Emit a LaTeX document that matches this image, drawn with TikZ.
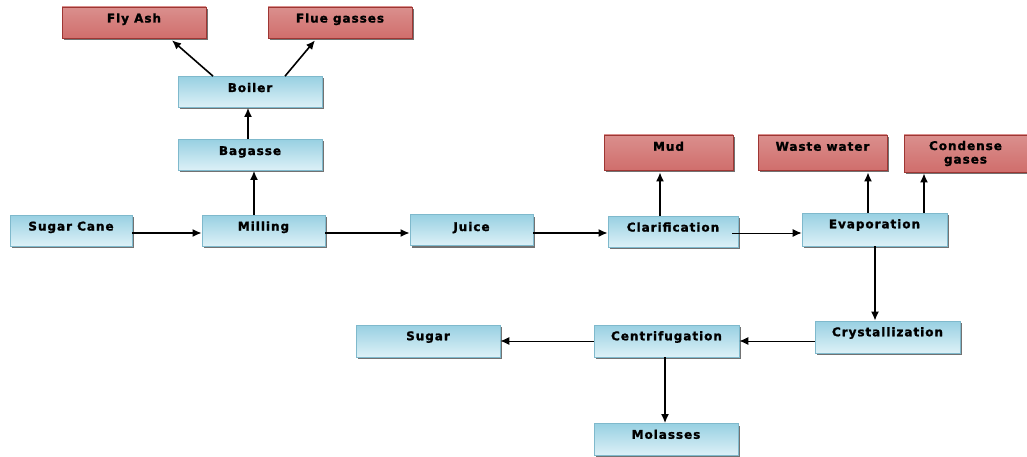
\documentclass[tikz,border=0pt]{standalone}
\usepackage{fontspec}
\setmainfont{DejaVu Sans}[BoldFont={DejaVu Sans Bold}, BoldFeatures={FakeBold=1.5}]
\usetikzlibrary{arrows.meta,shadows}
\definecolor{bluetop}{HTML}{98D0E2}
\definecolor{bluebot}{HTML}{DDF1F7}
\definecolor{blueline}{HTML}{7FB9CC}
\definecolor{redtop}{HTML}{DA8F8D}
\definecolor{redmid}{HTML}{C0504D}
\definecolor{redbot}{HTML}{D06E6C}
\definecolor{redline}{HTML}{9E3633}
\tikzset{
  base/.style={rectangle, inner sep=0pt, text height=8.5pt, text depth=8.5pt, align=center,
    font=\fontsize{12}{13.5}\selectfont\bfseries\addfontfeature{LetterSpace=8},
    drop shadow={shadow xshift=1.5pt, shadow yshift=-2pt, fill=black!65, opacity=0.85}},
  bluebox/.style={base, draw=blueline, line width=0.7pt, top color=bluetop, bottom color=bluebot,
    minimum width=#1, minimum height=31pt},
  redbox/.style={base, draw=redline, line width=0.7pt, top color=redtop, middle color=redmid, bottom color=redbot,
    minimum width=#1, minimum height=31pt},
  arr/.style={-{Latex[length=9pt,width=8pt]}, line width=1.6pt, black},
  thinarr/.style={-{Latex[length=9pt,width=8pt]}, line width=1pt, black}
}
\begin{document}
\begin{tikzpicture}
\useasboundingbox (0,0) rectangle (1027pt,-457pt);
\node[redbox=144pt] (flyash) at (134pt,-22.5pt) {Fly Ash};
\node[redbox=144pt] (flue) at (340pt,-22.5pt) {Flue gasses};
\node[bluebox=144pt] (boiler) at (250pt,-92pt) {Boiler};
\node[bluebox=144pt] (bagasse) at (250pt,-155pt) {Bagasse};
\node[bluebox=122pt] (cane) at (71pt,-230.5pt) {Sugar Cane};
\node[bluebox=123pt] (milling) at (263.5pt,-230.5pt) {Milling};
\node[bluebox=123pt, text depth=6.5pt] (juice) at (471.5pt,-230pt) {Juice};
\node[bluebox=130pt] (clar) at (673pt,-231.5pt) {Clarification};
\node[redbox=129pt, minimum height=35pt, text depth=12pt] (mud) at (668.5pt,-152.5pt) {Mud};
\node[redbox=129pt, minimum height=35pt, text depth=12pt] (waste) at (822.5pt,-152.5pt) {Waste water};
\node[redbox=123pt, minimum height=37pt, text height=, text depth=] (cond) at (965.5pt,-153.5pt) {Condense\\gases};
\node[bluebox=145pt, minimum height=33pt, text depth=11pt] (evap) at (874.5pt,-229.5pt) {Evaporation};
\node[bluebox=145pt, minimum height=32pt, text depth=10pt] (cryst) at (887.5pt,-337pt) {Crystallization};
\node[bluebox=145pt, minimum height=32pt, text depth=10pt] (centri) at (666.5pt,-341pt) {Centrifugation};
\node[bluebox=144pt, minimum height=32pt, text depth=10pt] (sugar) at (428pt,-341pt) {Sugar};
\node[bluebox=144pt, minimum height=32pt, text depth=10pt] (mol) at (666pt,-439.5pt) {Molasses};

\draw[arr] (cane.east |- 0,-233pt) -- (milling.west |- 0,-233pt);
\draw[arr] (milling.east |- 0,-233pt) -- (juice.west |- 0,-233pt);
\draw[arr] (juice.east |- 0,-233pt) -- (clar.west |- 0,-233pt);
\draw[thinarr] ([xshift=-6pt]clar.east |- 0,-233pt) -- (evap.west |- 0,-233pt);
\draw[arr] (milling.north -| 254pt,0) -- (bagasse.south -| 254pt,0);
\draw[arr] (bagasse.north -| 248pt,0) -- (boiler.south -| 248pt,0);
\draw[arr] (boiler.north -| 213pt,0) -- ([yshift=-2pt]flyash.south -| 172pt,0);
\draw[arr] (boiler.north -| 285pt,0) -- ([yshift=-2pt]flue.south -| 315pt,0);
\draw[arr] (clar.north -| 660pt,0) -- ([yshift=-2pt]mud.south -| 660pt,0);
\draw[arr] (evap.north -| 868pt,0) -- ([yshift=-2pt]waste.south -| 868pt,0);
\draw[arr] (evap.north -| 924pt,0) -- ([yshift=-1pt]cond.south -| 924pt,0);
\draw[arr] (evap.south -| 875pt,0) -- (cryst.north -| 875pt,0);
\draw[thinarr] (cryst.west |- 0,-341pt) -- (centri.east |- 0,-341pt);
\draw[thinarr] (centri.west |- 0,-341pt) -- (sugar.east |- 0,-341pt);
\draw[arr] (centri.south -| 665pt,0) -- (mol.north -| 665pt,0);
\end{tikzpicture}
\end{document}
